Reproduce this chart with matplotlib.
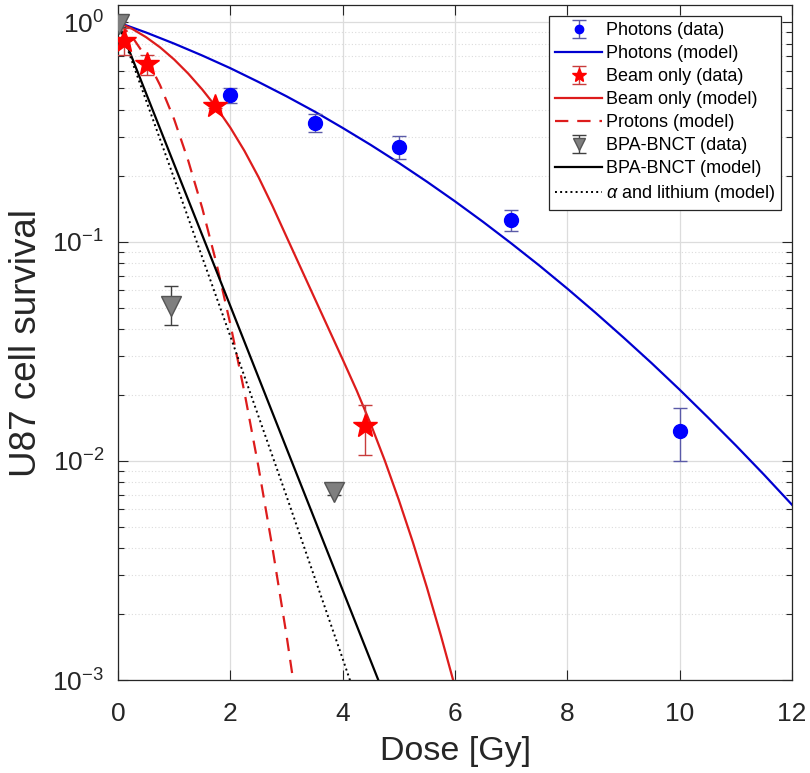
import numpy as np
import matplotlib
matplotlib.use('Agg')
import matplotlib.pyplot as plt
from matplotlib.ticker import LogLocator, NullFormatter, MultipleLocator

plt.rcParams['font.family'] = ['Liberation Sans', 'DejaVu Sans']
plt.rcParams['mathtext.fontset'] = 'custom'
plt.rcParams['mathtext.rm'] = 'Liberation Sans'
plt.rcParams['mathtext.it'] = 'Liberation Sans:italic'
plt.rcParams['axes.unicode_minus'] = False

# 数据
# Photons
photon_dose = [2, 3.5, 5, 7, 10]
photon_surv = [0.464, 0.348, 0.271, 0.126, 0.0137]
photon_lo = [0.427, 0.317, 0.237, 0.112, 0.0100]
photon_hi = [0.500, 0.380, 0.303, 0.140, 0.0174]
photon_model_dose = [0, 0.5, 1, 1.5, 2, 2.5, 3, 3.5, 4, 4.5, 5, 5.5, 6, 6.5, 7, 7.5,
                     8, 8.5, 9, 9.5, 10, 10.5, 11, 11.5, 12]
photon_model_surv = [1.0, 0.899, 0.800, 0.706, 0.618, 0.535, 0.460, 0.392, 0.330,
                     0.276, 0.2286, 0.1876, 0.1526, 0.123, 0.0982, 0.0778, 0.0610,
                     0.0474, 0.0365, 0.0279, 0.0211, 0.0158, 0.01175, 0.00865, 0.0063]

# Beam only
beam_dose = [0.1, 0.52, 1.73, 4.40]
beam_surv = [0.822, 0.643, 0.415, 0.01435]
beam_lo = [0.707, 0.575, 0.405, 0.0106]
beam_hi = [0.940, 0.710, 0.425, 0.0180]
beam_model_dose = [0, 0.25, 0.5, 0.75, 1, 1.25, 1.5, 1.75, 2, 2.25, 2.5, 2.75, 3,
                   3.25, 3.5, 3.75, 4, 4.25, 4.5, 4.75, 5, 5.25, 5.5, 5.75, 6]
beam_model_surv = [1.0, 0.935, 0.856, 0.769, 0.677, 0.584, 0.494, 0.410, 0.331,
                   0.2596, 0.1972, 0.1454, 0.1052, 0.0762, 0.0552, 0.0400, 0.0290,
                   0.0209, 0.01469, 0.01002, 0.00662, 0.00425, 0.00264, 0.00159, 0.00093]

# Protons
proton_model_dose = [0, 0.25, 0.5, 0.75, 1, 1.25, 1.5, 1.75, 2, 2.25, 2.5, 2.75, 3, 3.25]
proton_model_surv = [1.0, 0.861, 0.692, 0.516, 0.361, 0.234, 0.142, 0.080, 0.042,
                     0.0206, 0.0094, 0.0040, 0.0016, 0.00059]

# BPA-BNCT
bnct_dose = [0.01, 0.95, 3.84]
bnct_surv = [0.98, 0.051, 0.00724]
bnct_lo = [0.95, 0.0417, 0.0070]
bnct_hi = [1.0, 0.0625, 0.0076]
bnct_model_dose = [0, 1, 2, 3, 4, 5]
bnct_model_surv = [1.0, 0.225, 0.0508, 0.0114, 0.00257, 0.00058]

# alpha and lithium
alpha_model_dose = [0, 1, 2, 3, 4, 5]
alpha_model_surv = [1.0, 0.194, 0.037, 0.0069, 0.00125, 0.00022]


def yerr(v, lo, hi):
    v = np.array(v)
    return [v - np.array(lo), np.array(hi) - v]


fig = plt.figure(figsize=(8.1, 7.73), dpi=100)
ax = fig.add_axes([0.1457, 0.1203, 0.8321, 0.8732])

h1 = ax.errorbar(photon_dose, photon_surv, yerr=yerr(photon_surv, photon_lo, photon_hi),
                 fmt='o', color='blue', ecolor='#5a5aa8', elinewidth=1, capsize=5,
                 markersize=10, label='Photons (data)', zorder=5)
h2, = ax.plot(photon_model_dose, photon_model_surv, '-', color='#0000d0', lw=1.6,
              label='Photons (model)')
h3 = ax.errorbar(beam_dose, beam_surv, yerr=yerr(beam_surv, beam_lo, beam_hi),
                 fmt='*', color='red', ecolor='#c83c3c', elinewidth=1, capsize=5,
                 markersize=18, label='Beam only (data)', zorder=5)
h4, = ax.plot(beam_model_dose, beam_model_surv, '-', color='#dd1c1c', lw=1.6,
              label='Beam only (model)')
h5, = ax.plot(proton_model_dose, proton_model_surv, '--', color='#dd1c1c', lw=1.6,
              dashes=(6, 4), label='Protons (model)')
h6 = ax.errorbar(bnct_dose, bnct_surv, yerr=yerr(bnct_surv, bnct_lo, bnct_hi),
                 fmt='v', color='#7f7f7f', mec='#555555', ecolor='#404040', elinewidth=1,
                 capsize=5, markersize=15, label='BPA-BNCT (data)', zorder=5)
h7, = ax.plot(bnct_model_dose, bnct_model_surv, '-', color='black', lw=1.6,
              label='BPA-BNCT (model)')
h8, = ax.plot(alpha_model_dose, alpha_model_surv, ':', color='black', lw=1.4,
              label=r'$\alpha$ and lithium (model)')

ax.set_yscale('log')
ax.set_xlim(0, 12)
ax.set_ylim(1e-3, 1.2)
ax.xaxis.set_major_locator(MultipleLocator(2))
ax.yaxis.set_major_locator(LogLocator(base=10, numticks=10))
ax.yaxis.set_minor_locator(LogLocator(base=10, subs=np.arange(2, 10), numticks=10))
ax.yaxis.set_minor_formatter(NullFormatter())

ax.grid(True, which='major', color='#dcdcdc', lw=0.9)
ax.grid(True, which='minor', axis='y', color='#dcdcdc', lw=0.8, ls=(0, (1, 2)))
ax.set_axisbelow(True)

ax.tick_params(which='both', direction='in', top=True, right=True, colors='#262626',
               labelsize=19)
ax.tick_params(which='major', length=7, width=0.8)
ax.tick_params(which='minor', length=4, width=0.8)
ax.tick_params(axis='x', which='major', pad=16)
ax.tick_params(axis='y', which='major', pad=10)
for s in ax.spines.values():
    s.set_color('#262626')
    s.set_linewidth(0.9)

ax.set_xlabel('Dose [Gy]', fontsize=24.5, color='#262626', labelpad=7)
ax.set_ylabel('U87 cell survival', fontsize=26.5, color='#262626', labelpad=6)

leg = ax.legend(handles=[h1, h2, h3, h4, h5, h6, h7, h8], loc='upper right',
                fontsize=13, handlelength=2.6, markerscale=0.6, fancybox=False,
                framealpha=1, edgecolor='#262626', borderaxespad=0.6,
                labelspacing=0.33, handletextpad=0.2, borderpad=0.35)
leg.get_frame().set_linewidth(0.9)

fig.savefig('out.png', dpi=100)
